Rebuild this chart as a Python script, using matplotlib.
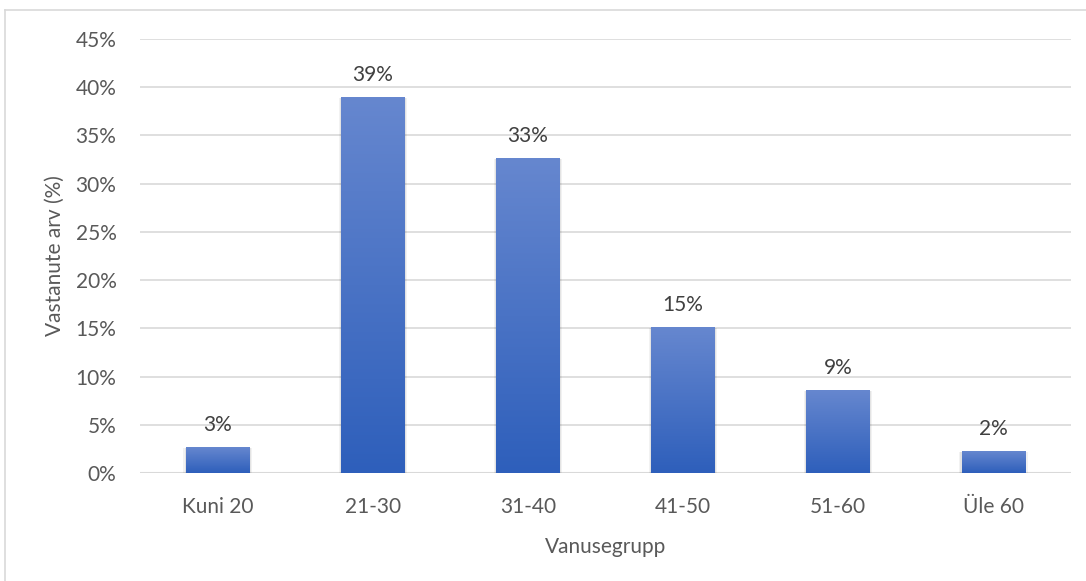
import numpy as np
from matplotlib import pyplot as plt
from matplotlib.colors import LinearSegmentedColormap
from matplotlib.lines import Line2D

categories = ['Kuni 20', '21-30', '31-40', '41-50', '51-60', 'Üle 60']
shares = [2.6, 38.9, 32.6, 15.1, 8.6, 2.2]
yticks = [0, 5, 10, 15, 20, 25, 30, 35, 40, 45]

plt.rcParams['font.family'] = ['Lato', 'DejaVu Sans']
text_col = '#595959'
grid_col = '#d9d9d9'
fs = 15

fig = plt.figure(figsize=(10.86, 5.81), dpi=100)
ax = fig.add_axes([140 / 1086, 1 - 473 / 581, (1071 - 140) / 1086, (473 - 39) / 581])

x = np.arange(len(categories))
bars = ax.bar(x, shares, width=0.41, color='none', zorder=3)

# gradient fill, lighter at the top
cmap = LinearSegmentedColormap.from_list('blu', ['#2e5fbb', '#6687cf'])
grad = np.linspace(0, 1, 256).reshape(-1, 1)
for b in bars:
    x0 = b.get_x()
    w = b.get_width()
    h = b.get_height()
    # soft shadow
    for k, a in [(0.03, 0.05), (0.015, 0.06)]:
        ax.bar(x0 + w / 2, h + 0.15, width=w + k, bottom=-0.2, color='#000000',
               alpha=a, zorder=2, linewidth=0)
    ax.imshow(grad, extent=[x0, x0 + w, 0, h], origin='lower', aspect='auto',
              cmap=cmap, zorder=3, interpolation='bilinear')
    ax.text(x0 + w / 2, h + 1.3, '%d%%' % round(h), ha='center', va='bottom',
            fontsize=fs, color='#404040')

ax.set_xlim(-0.5, len(categories) - 0.5)
ax.set_ylim(0, 45)
ax.set_yticks(yticks)
ax.set_yticklabels(['%d%%' % t for t in yticks])
ax.set_xticks(x)
ax.set_xticklabels(categories)
ax.tick_params(axis='both', length=0, labelsize=fs, labelcolor=text_col)
ax.tick_params(axis='y', pad=17)
ax.tick_params(axis='x', pad=17)
ax.grid(axis='y', color=grid_col, linewidth=1.2, zorder=0)
ax.set_axisbelow(True)
for s in ax.spines.values():
    s.set_visible(False)
ax.axhline(0, color=grid_col, linewidth=1.5, zorder=1)

ax.set_ylabel('Vastanute arv (%)', fontsize=fs, color=text_col, labelpad=8)
ax.set_xlabel('Vanusegrupp', fontsize=fs, color=text_col, labelpad=15)

# chart area border (top and left visible)
fig.add_artist(Line2D([5 / 1086, 1.0], [1 - 10 / 581] * 2, transform=fig.transFigure,
                      color=grid_col, linewidth=1.2))
fig.add_artist(Line2D([5 / 1086] * 2, [0, 1 - 10 / 581], transform=fig.transFigure,
                      color=grid_col, linewidth=1.2))

fig.savefig('out.png', dpi=100)
